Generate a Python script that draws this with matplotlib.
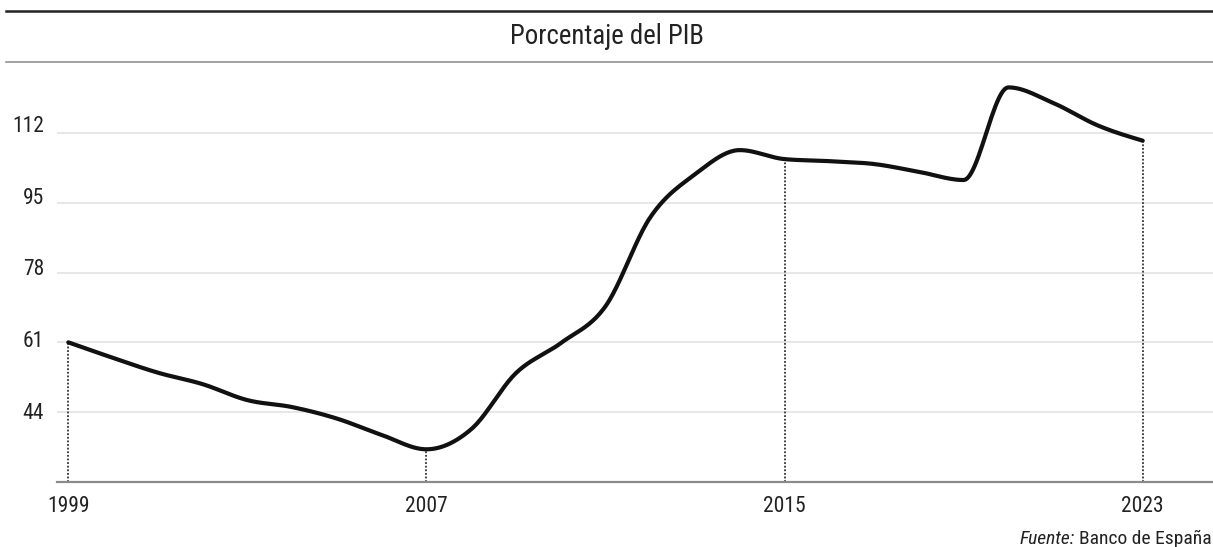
import numpy as np
import matplotlib
matplotlib.use("Agg")
import matplotlib.pyplot as plt
from matplotlib.lines import Line2D

plt.rcParams['font.family'] = ['Roboto Condensed', 'Liberation Sans Narrow', 'Roboto', 'DejaVu Sans']

# Deuda pública, porcentaje del PIB
years = list(range(1999, 2024))
debt = [61.0, 57.2, 53.6, 50.8, 46.9, 45.2, 42.4, 38.4, 34.9, 39.8,
        53.5, 60.8, 69.8, 91.5, 102.0, 107.9, 105.7, 105.2, 104.5, 102.6,
        100.6, 123.2, 119.4, 113.9, 110.2]

label_years = [1999, 2007, 2015, 2023]
y_ticks = [44, 61, 78, 95, 112]
title = "Porcentaje del PIB"
source = "Banco de España"


def smooth(x, y, n=24):
    # curva monótona (como d3.curveMonotoneX) que pasa por todos los puntos
    x = np.asarray(x, float)
    y = np.asarray(y, float)
    h = np.diff(x)
    s = np.diff(y) / h
    m = np.zeros_like(y)
    for i in range(1, len(y) - 1):
        p = (s[i - 1] * h[i] + s[i] * h[i - 1]) / (h[i - 1] + h[i])
        m[i] = (np.sign(s[i - 1]) + np.sign(s[i])) * min(abs(s[i - 1]), abs(s[i]), 0.5 * abs(p))
    m[0] = (3 * s[0] - m[1]) / 2
    m[-1] = (3 * s[-1] - m[-2]) / 2
    xs, ys = [], []
    t = np.linspace(0, 1, n, endpoint=False)
    for i in range(len(x) - 1):
        h00 = 2 * t**3 - 3 * t**2 + 1
        h10 = t**3 - 2 * t**2 + t
        h01 = -2 * t**3 + 3 * t**2
        h11 = t**3 - t**2
        xs.append(x[i] + t * h[i])
        ys.append(h00 * y[i] + h10 * h[i] * m[i] + h01 * y[i + 1] + h11 * h[i] * m[i + 1])
    xs.append([x[-1]])
    ys.append([y[-1]])
    return np.concatenate(xs), np.concatenate(ys)


fig = plt.figure(figsize=(12.13, 5.47), dpi=100)
ax = fig.add_axes([0.0467, 0.1194, 0.9533, 0.7673])

sx, sy = smooth(years, debt)
ax.plot(sx, sy, color="#111111", lw=3.0, solid_capstyle="round", zorder=3)

# lineas punteadas en los años marcados
for yr in label_years:
    val = debt[years.index(yr)]
    ax.vlines(yr, 27, val, colors="#333333", linestyles=(0, (1, 1)), lw=1.3, zorder=2)

ax.set_xlim(1998.74, 2024.57)
ax.set_ylim(27, 129.4)
ax.set_xticks(label_years)
ax.set_xticklabels([str(y) for y in label_years])
ax.set_yticks(y_ticks)
ax.set_yticklabels([])
ax.tick_params(axis="both", length=0, labelsize=15.5, colors="#222222")
ax.tick_params(axis="x", pad=10.5)

ax.grid(axis="y", color="#e0e0e0", lw=1.1)
ax.set_axisbelow(True)
for side in ["top", "right", "left"]:
    ax.spines[side].set_visible(False)
ax.spines["bottom"].set_color("#8a8a8a")
ax.spines["bottom"].set_linewidth(1.6)

# las etiquetas del eje y van algo separadas de la rejilla en el original
ax2 = ax.twinx()
ax2.yaxis.tick_left()
ax2.set_ylim(27.19, 126.69)
ax2.set_yticks(y_ticks)
ax2.set_yticklabels([str(v) for v in y_ticks])
ax2.tick_params(axis="y", length=0, labelsize=15.5, colors="#222222", pad=9)
for side in ["top", "right", "left", "bottom"]:
    ax2.spines[side].set_visible(False)

# cabecera
fig.add_artist(Line2D([0.005, 1], [0.9799, 0.9799], color="#222222", lw=1.8))
fig.add_artist(Line2D([0.005, 1], [0.8867, 0.8867], color="#888888", lw=1.1))
fig.text(0.5, 0.9324, title, ha="center", va="center", fontsize=19.4, color="#222222")

# fuente
src = fig.text(0.9985, 0.005, source, ha="right", va="baseline", fontsize=14, color="#222222")
ax.annotate("Fuente:", xy=(0, 0), xycoords=src, xytext=(-3, 0), textcoords="offset points",
            ha="right", va="bottom", fontsize=14, style="italic", color="#222222")

fig.savefig("out.png", dpi=100)
